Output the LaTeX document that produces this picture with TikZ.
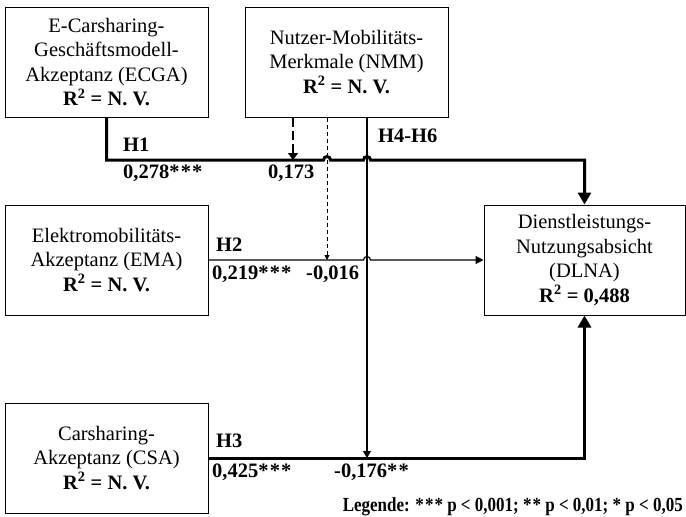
\documentclass[tikz,border=0pt]{standalone}
\usepackage{fontspec}
\setmainfont{Liberation Serif}
\usetikzlibrary{arrows.meta,calc}
\newcommand\mystars[1]{\ifcase#1\or*\or*\kern1.2pt*\or*\kern1.2pt*\kern1.2pt*\fi}
\begin{document}
\begin{tikzpicture}[x=1pt,y=-1pt,
  box/.style={draw, line width=1pt, minimum width=203pt, minimum height=110pt,
    align=center, font=\fontsize{20.5}{24.5}\selectfont, inner sep=0pt},
  lbl/.style={font=\fontsize{20.5}{24}\selectfont\bfseries, inner sep=0pt, anchor=west},
  thickline/.style={line width=3pt, -{Triangle[length=12pt,width=13pt]}},
  thinline/.style={line width=1.2pt, -{Triangle[length=8pt,width=8pt]}},
  dashline/.style={line width=1.2pt, dash pattern=on 9pt off 4pt, -{Triangle[length=7pt,width=10pt]}},
  finedash/.style={line width=0.9pt, dash pattern=on 4pt off 3pt, -{Triangle[length=5pt,width=5pt]}},
  solidmod/.style={line width=1.2pt, -{Triangle[length=7pt,width=8pt]}}
]
\useasboundingbox (0,0) rectangle (686,517);

\node[box] (ecga) at (106.5,62) {E-Carsharing-\\Geschäftsmodell-\\Akzeptanz (ECGA)\\\textbf{R\textsuperscript{2} = N. V.}};
\node[box] (nmm) at (346.5,62) {Nutzer-Mobilitäts-\\Merkmale (NMM)\\\textbf{R\textsuperscript{2} = N. V.}};
\node[box] (ema) at (106.5,260) {Elektromobilitäts-\\Akzeptanz (EMA)\\\textbf{R\textsuperscript{2} = N. V.}};
\node[box, minimum width=201pt] (dlna) at (584.5,260) {Dienstleistungs-\\Nutzungsabsicht\\(DLNA)\\\textbf{R\textsuperscript{2} = 0,488}};
\node[box] (csa) at (106.5,458) {Carsharing-\\Akzeptanz (CSA)\\\textbf{R\textsuperscript{2} = N. V.}};

\coordinate (xa) at (293,160);
\coordinate (xb) at (327,260);
\coordinate (xc) at (367,458);

% H1
\draw[thickline] (ecga.south) -- (ecga.south |- xa)
  -- ($(xb |- xa)+(-3.5,0)$) arc[start angle=180, end angle=0, radius=3.5pt]
  -- ($(xc |- xa)+(-3.5,0)$) arc[start angle=180, end angle=0, radius=3.5pt]
  -- (dlna.north |- xa) -- (dlna.north);
% H2
\draw[thinline] (ema.east)
  -- ($(xc |- ema.east)+(-3.5,0)$) arc[start angle=180, end angle=0, radius=3.5pt]
  -- (dlna.west);
% H3
\draw[thickline] (csa.east) -- (csa.east -| dlna.south) -- (dlna.south);

% moderators
\draw[dashline] (nmm.south -| xa) -- (xa);
\draw[finedash] (nmm.south -| xb) -- (xb);
\draw[solidmod] (nmm.south -| xc) -- (xc);

% labels
\node[lbl] (h1) at (123,145) {H1};
\node[lbl] (c1) at (123,173) {0,278\mystars3};
\node[lbl] (m1) at (268,173) {0,173};
\node[lbl] (h46) at (378,136) {H4-H6};
\node[lbl] (h2) at (216,245) {H2};
\node[lbl] (c2) at (212,274) {0,219\mystars3};
\node[lbl] (m2) at (306,274) {-0,016};
\node[lbl] (h3) at (216,441) {H3};
\node[lbl] (c3) at (212,472) {0,425\mystars3};
\node[lbl] (m3) at (334,472) {-0,176\mystars2};
\node[inner sep=0pt, anchor=east] (leg) at (683,507)
  {\scalebox{0.85}[1]{\fontsize{20}{24}\selectfont\bfseries Legende: \mystars3 p < 0,001; \mystars2 p < 0,01; \mystars1 p < 0,05}};
\end{tikzpicture}
\end{document}
